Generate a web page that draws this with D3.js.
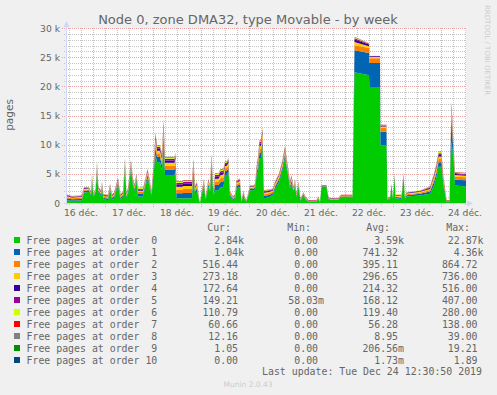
<!DOCTYPE html>
<html>
<head>
<meta charset="UTF-8">
<style>
  body { margin: 0; background: #f0f0f0; }
  svg { display: block; font-family: "DejaVu Sans", sans-serif; }
  .mono { font-family: "DejaVu Sans Mono", monospace; }
</style>
</head>
<body>
<svg width="497" height="395"></svg>
<script src="https://d3js.org/d3.v7.min.js"></script>
<script>

// hours since 16 Dec 2019 00:00 (UTC used as plain clock)
const hours = [4.5, 7.5, 11.5, 12.5, 13.5, 16, 17, 17.5, 18.25, 19.25,
  20, 20.75, 22, 22.5, 23.25, 25.5, 26.5, 27.5, 28.5, 30.5,
  31.75, 33, 34, 34.75, 35.5, 37, 38, 38.75, 39.75, 40.5,
  43, 44, 45.25, 46.25, 47.25, 48.5, 49.25, 50, 51.5, 52.5,
  53.25, 54, 58.75, 59.25, 59.75, 62.5, 63.25, 67.5, 68.25, 69,
  70, 71, 71.5, 72.25, 73.5, 74.25, 75.75, 76.5, 77.25, 78.25,
  79, 80.75, 81.5, 83.25, 84, 84.75, 85.75, 86.5, 88, 89,
  89.75, 91.5, 92.25, 93.25, 94, 94.75, 96.5, 98.5, 99, 99.75,
  100.5, 101.25, 102, 102.75, 103.5, 106, 108, 109, 111, 112.75,
  114, 114.75, 115.75, 116.5, 117.25, 118.25, 119, 119.75, 120.75, 121.75,
  123.25, 124.25, 125.75, 129.75, 130.75, 131.5, 132.25, 134.75, 135.75, 136.5,
  140.75, 141.5, 142.25, 147.75, 148.75, 156, 156.25, 161.5, 161.75, 164.75,
  165.25, 166.5, 167.25, 168, 168.75, 169.25, 172.25, 173.25, 174, 174.75,
  181.5, 186.5, 187.5, 188.5, 189.75, 190.75, 192.25, 193.25, 194, 194.75,
  196.25, 196.75, 197.25, 198.25, 199, 204.5];

const order0 = [500, 400, 450, 500, 1800, 1900, 1200, 3600, 1000, 1800,
  5200, 1800, 1200, 2600, 600, 500, 2300, 600, 800, 3100,
  600, 1000, 6200, 800, 1500, 5700, 3000, 2000, 3800, 1100,
  1100, 2500, 4300, 2800, 1200, 5600, 8300, 7000, 7000, 5600,
  10400, 4800, 4800, 5500, 800, 800, 800, 800, 5000, 1500,
  2000, 500, 50, 1200, 3000, 600, 2800, 1800, 6200, 1200,
  2200, 2200, 2600, 2800, 4800, 4800, 5200, 1200, 500, 600,
  2500, 2800, 200, 1400, 500, 200, 2200, 2200, 2400, 4500,
  5500, 7700, 7700, 9500, 800, 1000, 1400, 2400, 3600, 5600,
  7800, 6000, 4200, 2500, 3400, 1800, 3000, 1000, 2700, 400,
  1300, 600, 200, 200, 700, 100, 2800, 2800, 700, 500,
  500, 900, 1000, 1000, 22400, 21900, 19900, 19900, 9900, 9900,
  500, 700, 3000, 600, 4500, 800, 700, 4500, 600, 1100,
  1300, 1600, 2300, 3000, 4500, 6200, 6200, 2800, 1500, 200,
  200, 7000, 10500, 7500, 3000, 2840];

const order1 = [300, 240, 255, 270, 270, 270, 240, 420, 180, 210,
  570, 300, 300, 330, 270, 270, 300, 270, 300, 360,
  270, 300, 510, 300, 330, 540, 390, 360, 390, 450,
  450, 420, 480, 420, 300, 690, 1170, 870, 870, 870,
  1200, 930, 930, 930, 870, 870, 930, 930, 810, 450,
  510, 150, 45, 210, 360, 150, 420, 360, 690, 300,
  870, 870, 930, 930, 690, 690, 750, 240, 210, 270,
  420, 420, 90, 240, 150, 90, 270, 270, 300, 510,
  750, 930, 930, 1080, 420, 390, 330, 390, 450, 540,
  630, 570, 450, 360, 420, 300, 360, 210, 300, 120,
  180, 150, 90, 90, 120, 60, 90, 90, 120, 90,
  90, 120, 120, 120, 3800, 3800, 4100, 4100, 2300, 2300,
  90, 120, 120, 120, 210, 210, 210, 210, 150, 240,
  270, 360, 510, 630, 690, 780, 780, 510, 390, 90,
  90, 1600, 4300, 810, 1000, 1040];

const order2 = [210, 168, 179, 189, 189, 189, 168, 294, 126, 147,
  399, 210, 210, 231, 189, 189, 210, 189, 210, 252,
  189, 210, 357, 210, 231, 378, 273, 252, 273, 315,
  315, 294, 336, 294, 210, 483, 819, 609, 609, 609,
  840, 651, 651, 651, 609, 609, 651, 651, 567, 315,
  357, 105, 32, 147, 252, 105, 294, 252, 483, 210,
  609, 609, 651, 651, 483, 483, 525, 168, 147, 189,
  294, 294, 63, 168, 105, 63, 189, 189, 210, 357,
  525, 651, 651, 756, 294, 273, 231, 273, 315, 378,
  441, 399, 315, 252, 294, 210, 252, 147, 210, 84,
  126, 105, 63, 63, 84, 42, 63, 63, 84, 63,
  63, 84, 84, 84, 860, 860, 800, 800, 700, 700,
  63, 84, 84, 84, 147, 147, 147, 147, 105, 168,
  189, 252, 357, 441, 483, 546, 546, 357, 273, 63,
  63, 500, 860, 567, 520, 516];

const order3 = [170, 136, 145, 153, 153, 153, 136, 238, 102, 119,
  323, 170, 170, 187, 153, 153, 170, 153, 170, 204,
  153, 170, 289, 170, 187, 306, 221, 204, 221, 255,
  255, 238, 272, 238, 170, 391, 663, 493, 493, 493,
  680, 527, 527, 527, 493, 493, 527, 527, 459, 255,
  289, 85, 26, 119, 204, 85, 238, 204, 391, 170,
  493, 493, 527, 527, 391, 391, 425, 136, 119, 153,
  238, 238, 51, 136, 85, 51, 153, 153, 170, 289,
  425, 527, 527, 612, 238, 221, 187, 221, 255, 306,
  357, 323, 255, 204, 238, 170, 204, 119, 170, 68,
  102, 85, 51, 51, 68, 34, 51, 51, 68, 51,
  51, 68, 68, 68, 550, 300, 250, 250, 200, 200,
  51, 68, 68, 68, 119, 119, 119, 119, 85, 136,
  153, 204, 289, 357, 391, 442, 442, 289, 221, 51,
  51, 350, 700, 459, 280, 273];

const order4 = [120, 96, 102, 108, 108, 108, 96, 168, 72, 84,
  228, 120, 120, 132, 108, 108, 120, 108, 120, 144,
  108, 120, 204, 120, 132, 216, 156, 144, 156, 180,
  180, 168, 192, 168, 120, 276, 468, 348, 348, 348,
  480, 372, 372, 372, 348, 348, 372, 372, 324, 180,
  204, 60, 18, 84, 144, 60, 168, 144, 276, 120,
  348, 348, 372, 372, 276, 276, 300, 96, 84, 108,
  168, 168, 36, 96, 60, 36, 108, 108, 120, 204,
  300, 372, 372, 432, 168, 156, 132, 156, 180, 216,
  252, 228, 180, 144, 168, 120, 144, 84, 120, 48,
  72, 60, 36, 36, 48, 24, 36, 36, 48, 36,
  36, 48, 48, 48, 400, 300, 100, 100, 150, 150,
  36, 48, 48, 48, 84, 84, 84, 84, 60, 96,
  108, 144, 204, 252, 276, 312, 312, 204, 156, 36,
  36, 250, 500, 324, 180, 173];

const order5 = [100, 80, 85, 90, 90, 90, 80, 140, 60, 70,
  190, 100, 100, 110, 90, 90, 100, 90, 100, 120,
  90, 100, 170, 100, 110, 180, 130, 120, 130, 150,
  150, 140, 160, 140, 100, 230, 390, 290, 290, 290,
  400, 310, 310, 310, 290, 290, 310, 310, 270, 150,
  170, 50, 15, 70, 120, 50, 140, 120, 230, 100,
  290, 290, 310, 310, 230, 230, 250, 80, 70, 90,
  140, 140, 30, 80, 50, 30, 90, 90, 100, 170,
  250, 310, 310, 360, 140, 130, 110, 130, 150, 180,
  210, 190, 150, 120, 140, 100, 120, 70, 100, 40,
  60, 50, 30, 30, 40, 20, 30, 30, 40, 30,
  30, 40, 40, 40, 250, 150, 50, 50, 80, 80,
  30, 40, 40, 40, 70, 70, 70, 70, 50, 80,
  90, 120, 170, 210, 230, 260, 260, 170, 130, 30,
  30, 150, 400, 270, 150, 149];

const order6 = [70, 56, 60, 63, 63, 63, 56, 98, 42, 49,
  133, 70, 70, 77, 63, 63, 70, 63, 70, 84,
  63, 70, 119, 70, 77, 126, 91, 84, 91, 105,
  105, 98, 112, 98, 70, 161, 273, 203, 203, 203,
  280, 217, 217, 217, 203, 203, 217, 217, 189, 105,
  119, 35, 10, 49, 84, 35, 98, 84, 161, 70,
  203, 203, 217, 217, 161, 161, 175, 56, 49, 63,
  98, 98, 21, 56, 35, 21, 63, 63, 70, 119,
  175, 217, 217, 252, 98, 91, 77, 91, 105, 126,
  147, 133, 105, 84, 98, 70, 84, 49, 70, 28,
  42, 35, 21, 21, 28, 14, 21, 21, 28, 21,
  21, 28, 28, 28, 120, 50, 30, 30, 50, 50,
  21, 28, 28, 28, 49, 49, 49, 49, 35, 56,
  63, 84, 119, 147, 161, 182, 182, 119, 91, 21,
  21, 100, 200, 189, 110, 111];

const order7 = [30, 24, 26, 27, 27, 27, 24, 42, 18, 21,
  57, 30, 30, 33, 27, 27, 30, 27, 30, 36,
  27, 30, 51, 30, 33, 54, 39, 36, 39, 45,
  45, 42, 48, 42, 30, 69, 117, 87, 87, 87,
  120, 93, 93, 93, 87, 87, 93, 93, 81, 45,
  51, 15, 4, 21, 36, 15, 42, 36, 69, 30,
  87, 87, 93, 93, 69, 69, 75, 24, 21, 27,
  42, 42, 9, 24, 15, 9, 27, 27, 30, 51,
  75, 93, 93, 108, 42, 39, 33, 39, 45, 54,
  63, 57, 45, 36, 42, 30, 36, 21, 30, 12,
  18, 15, 9, 9, 12, 6, 9, 9, 12, 9,
  9, 12, 12, 12, 50, 20, 10, 10, 20, 20,
  9, 12, 12, 12, 21, 21, 21, 21, 15, 24,
  27, 36, 51, 63, 69, 78, 78, 51, 39, 9,
  9, 50, 40, 81, 60, 61];

const order8 = [8, 6, 6, 6, 6, 6, 6, 10, 5, 5,
  14, 8, 8, 8, 6, 6, 8, 6, 8, 9,
  6, 8, 12, 8, 8, 13, 9, 9, 9, 11,
  11, 10, 12, 10, 8, 16, 28, 20, 20, 20,
  30, 22, 22, 22, 20, 20, 22, 22, 19, 11,
  12, 4, 1, 5, 9, 4, 10, 9, 16, 8,
  20, 20, 22, 22, 16, 16, 18, 6, 5, 6,
  10, 10, 2, 6, 4, 2, 6, 6, 8, 12,
  18, 22, 22, 25, 10, 9, 8, 9, 11, 13,
  15, 14, 11, 9, 10, 8, 9, 5, 8, 3,
  4, 4, 2, 2, 3, 1, 2, 2, 3, 2,
  2, 3, 3, 3, 39, 20, 10, 10, 12, 12,
  2, 3, 3, 3, 5, 5, 5, 5, 4, 6,
  6, 9, 12, 15, 16, 18, 18, 12, 9, 2,
  2, 20, 30, 19, 12, 12];

const order9 = [0, 0, 0, 0, 0, 0, 0, 0, 0, 0,
  0, 0, 0, 0, 0, 0, 0, 0, 0, 0,
  0, 0, 0, 0, 0, 0, 0, 0, 0, 0,
  0, 0, 0, 0, 0, 0, 0, 0, 0, 0,
  0, 0, 0, 0, 0, 0, 0, 0, 0, 0,
  0, 0, 0, 0, 0, 0, 0, 0, 0, 0,
  0, 0, 0, 0, 0, 0, 0, 0, 0, 0,
  0, 0, 0, 0, 0, 0, 0, 0, 0, 0,
  0, 0, 0, 0, 0, 0, 0, 0, 0, 0,
  0, 0, 0, 0, 0, 0, 0, 0, 0, 0,
  0, 0, 0, 0, 0, 0, 0, 0, 0, 0,
  0, 0, 0, 0, 19, 5, 2, 2, 1, 1,
  0, 0, 0, 0, 0, 0, 0, 0, 0, 0,
  0, 0, 0, 0, 0, 0, 0, 0, 0, 0,
  0, 0, 2, 1, 1, 1];

const order10 = [0, 0, 0, 0, 0, 0, 0, 0, 0, 0,
  0, 0, 0, 0, 0, 0, 0, 0, 0, 0,
  0, 0, 0, 0, 0, 0, 0, 0, 0, 0,
  0, 0, 0, 0, 0, 0, 0, 0, 0, 0,
  0, 0, 0, 0, 0, 0, 0, 0, 0, 0,
  0, 0, 0, 0, 0, 0, 0, 0, 0, 0,
  0, 0, 0, 0, 0, 0, 0, 0, 0, 0,
  0, 0, 0, 0, 0, 0, 0, 0, 0, 0,
  0, 0, 0, 0, 0, 0, 0, 0, 0, 0,
  0, 0, 0, 0, 0, 0, 0, 0, 0, 0,
  0, 0, 0, 0, 0, 0, 0, 0, 0, 0,
  0, 0, 0, 0, 1.89, 0, 0, 0, 0, 0,
  0, 0, 0, 0, 0, 0, 0, 0, 0, 0,
  0, 0, 0, 0, 0, 0, 0, 0, 0, 0,
  0, 0, 0, 0, 0, 0];

const series = [order0, order1, order2, order3, order4, order5, order6, order7, order8, order9, order10];
const colors = ["#00CC00", "#0066B3", "#FF8000", "#FFCC00", "#330099", "#990099",
  "#CCFF00", "#FF0000", "#808080", "#008F00", "#00487D"];
const names = ["Free pages at order  0", "Free pages at order  1", "Free pages at order  2",
  "Free pages at order  3", "Free pages at order  4", "Free pages at order  5",
  "Free pages at order  6", "Free pages at order  7", "Free pages at order  8",
  "Free pages at order  9", "Free pages at order 10"];
const curText = ["2.84k", "1.04k", "516.44 ", "273.18 ", "172.64 ", "149.21 ", "110.79 ", "60.66 ", "12.16 ", "1.05 ", "0.00 "];
const minText = ["0.00 ", "0.00 ", "0.00 ", "0.00 ", "0.00 ", "58.03m", "0.00 ", "0.00 ", "0.00 ", "0.00 ", "0.00 "];
const avgText = ["3.59k", "741.32 ", "395.11 ", "296.65 ", "214.32 ", "168.12 ", "119.40 ", "56.28 ", "8.95 ", "206.56m", "1.73m"];
const maxText = ["22.87k", "4.36k", "864.72 ", "736.00 ", "516.00 ", "407.00 ", "280.00 ", "138.00 ", "39.00 ", "19.21 ", "1.89 "];
const dayLabels = ["16 déc.", "17 déc.", "18 déc.", "19 déc.", "20 déc.", "21 déc.", "22 déc.", "23 déc.", "24 déc."];
const yTicks = [0, 5000, 10000, 15000, 20000, 25000, 30000];
const yTickLabels = ["0", "5 k", "10 k", "15 k", "20 k", "25 k", "30 k"];

let width = 497, height = 395;
let svg = d3.select("svg");

const t0 = Date.UTC(2019, 11, 16);
const toDate = h => new Date(t0 + h * 3600e3);
// keep runs of spaces in the monospace legend
const pre = s => s.replace(/ /g, "\u00a0");

let x = d3.scaleUtc().domain([toDate(4.5), toDate(204.5)]).range([66, 466]);
let y = d3.scaleLinear().domain([0, 30000]).range([203, 28]);

svg.append("rect").attr("width", width).attr("height", height).attr("fill", "#f0f0f0");
svg.append("rect").attr("x", 66).attr("y", 28).attr("width", 400).attr("height", 175).attr("fill", "#ffffff");

// grid
let grid = svg.append("g").attr("shape-rendering", "crispEdges").attr("stroke-dasharray", "1,1");
d3.range(1000, 30001, 1000).forEach(v => {
  let major = v % 5000 == 0;
  grid.append("line")
    .attr("x1", major ? 62 : 64).attr("x2", 466)
    .attr("y1", Math.round(y(v)) + 0.5).attr("y2", Math.round(y(v)) + 0.5)
    .attr("stroke", major ? "#e8a3a3" : "#c4c4c4");
});
d3.utcHour.every(6).range(toDate(4.5), toDate(204.6)).forEach(d => {
  let major = d.getUTCHours() == 0;
  let px = Math.round(x(d)) + 0.5;
  grid.append("line")
    .attr("x1", px).attr("x2", px)
    .attr("y1", 28).attr("y2", major ? 207 : 205)
    .attr("stroke", major ? "#e8a3a3" : "#c4c4c4");
});

// stacked areas
let keys = series.map((s, i) => "order" + i);
let rows = hours.map((h, i) => {
  let r = { date: toDate(h) };
  series.forEach((s, k) => r[keys[k]] = s[i]);
  return r;
});
let stacked = d3.stack().keys(keys)(rows);
let area = d3.area()
  .x(d => x(d.data.date))
  .y0(d => y(d[0]))
  .y1(d => y(d[1]));

svg.append("g")
  .selectAll("path")
  .data(stacked)
  .enter()
  .append("path")
  .attr("d", area)
  .attr("fill", (d, i) => colors[i]);

// axes
let axisCol = "#CFD6F8";
svg.append("line").attr("x1", 64).attr("x2", 470).attr("y1", 203.5).attr("y2", 203.5).attr("stroke", axisCol);
svg.append("line").attr("x1", 66.5).attr("x2", 66.5).attr("y1", 205).attr("y2", 24).attr("stroke", axisCol);
svg.append("path").attr("d", "M467,200.5 L473,203.5 L467,206.5 Z").attr("fill", axisCol);
svg.append("path").attr("d", "M63.5,27 L66.5,21 L69.5,27 Z").attr("fill", axisCol);

// axis labels
svg.append("g").selectAll("text")
  .data(yTicks)
  .enter()
  .append("text")
  .attr("x", 60)
  .attr("y", d => y(d) + 3.5)
  .attr("text-anchor", "end")
  .attr("font-size", 9.2)
  .attr("fill", "#666")
  .text((d, i) => yTickLabels[i]);

svg.append("g").selectAll("text")
  .data(dayLabels)
  .enter()
  .append("text")
  .attr("x", (d, i) => x(toDate(12 + 24 * i)))
  .attr("y", 215.5)
  .attr("text-anchor", "middle")
  .attr("font-size", 9.2)
  .attr("fill", "#666")
  .text(d => d);

svg.append("text")
  .attr("transform", "translate(13,115) rotate(-90)")
  .attr("text-anchor", "middle")
  .attr("font-size", 10.5)
  .attr("fill", "#666")
  .text("pages");

svg.append("text")
  .attr("x", 248).attr("y", 24.3)
  .attr("text-anchor", "middle")
  .attr("font-size", 13)
  .attr("fill", "#666")
  .text("Node 0, zone DMA32, type Movable - by week");

svg.append("text")
  .attr("transform", "translate(485,5) rotate(90)")
  .attr("font-size", 7)
  .attr("fill", "#cccccc")
  .text("RRDTOOL / TOBI OETIKER");

// legend
let legend = svg.append("g").attr("class", "mono").attr("font-size", 9.9).attr("fill", "#666");
[["Cur:", 231], ["Min:", 311], ["Avg:", 390], ["Max:", 470]].forEach(h => {
  legend.append("text").attr("x", h[1]).attr("y", 231).attr("text-anchor", "end").text(h[0]);
});
names.forEach((n, i) => {
  let by = 244 + i * 12;
  legend.append("rect").attr("x", 14).attr("y", by - 7).attr("width", 6).attr("height", 6).attr("fill", colors[i]);
  legend.append("text").attr("x", 26.5).attr("y", by).text(pre(n));
  legend.append("text").attr("x", 244).attr("y", by).attr("text-anchor", "end").text(pre(curText[i]));
  legend.append("text").attr("x", 324).attr("y", by).attr("text-anchor", "end").text(pre(minText[i]));
  legend.append("text").attr("x", 404).attr("y", by).attr("text-anchor", "end").text(pre(avgText[i]));
  legend.append("text").attr("x", 483.5).attr("y", by).attr("text-anchor", "end").text(pre(maxText[i]));
});
legend.append("text").attr("x", 482).attr("y", 374.5).attr("text-anchor", "end")
  .text("Last update: Tue Dec 24 12:30:50 2019");

svg.append("text")
  .attr("x", 248).attr("y", 387)
  .attr("text-anchor", "middle")
  .attr("font-size", 7.5)
  .attr("fill", "#cccccc")
  .text("Munin 2.0.43");

</script>
</body>
</html>
